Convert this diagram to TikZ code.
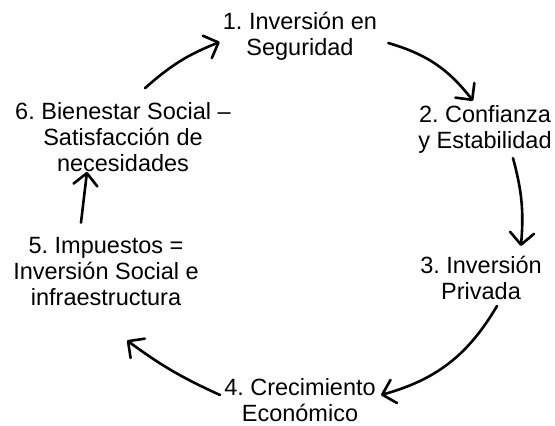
\documentclass[tikz,border=0pt]{standalone}
\usepackage{fontspec}
\setmainfont{Liberation Sans}
\frenchspacing
\usetikzlibrary{positioning}
\usetikzlibrary{arrows.meta}

\begin{document}
\begin{tikzpicture}[x=1pt, y=-1pt,
    stage/.style = {align=center, inner sep=0pt, font=\fontsize{23.5}{26}\selectfont},
    link/.style = {line width=2.6pt, line cap=round, -{Straight Barb[length=12pt, width=24pt, round]}}]
    \useasboundingbox (0,0) rectangle (555,426);

    \node[stage] (n1) at (300,36) {1. Inversión en\\Seguridad};
    \node[stage] (n2) at (485,129) {2. Confianza\\y Estabilidad};
    \node[stage] (n3) at (481,278) {3. Inversión\\Privada};
    \node[stage] (n4) at (300,400) {4. Crecimiento\\Económico};
    \node[stage] (n5) at (106,272) {5. Impuestos =\\Inversión Social e\\infraestructura};
    \node[stage] (n6) at (123,137) {6. Bienestar Social --\\Satisfacción de\\necesidades};

    \draw[link] ([xshift=22pt,yshift=14pt]n6.north) to[bend left=10] ([xshift=-3pt,yshift=-6pt]n1.west);
    \draw[link] ([xshift=11pt,yshift=-7pt]n1.east) to[bend left=18] ([xshift=-12pt,yshift=4pt]n2.north);
    \draw[link] ([xshift=28pt,yshift=-5pt]n2.south) to[bend left=10] ([xshift=-21pt,yshift=10pt]n3.north east);
    \draw[link] ([xshift=16pt,yshift=-6pt]n3.south) to[bend left=22] ([xshift=5pt,yshift=5pt]n4.east);
    \draw[link] ([xshift=-4pt,yshift=5pt]n4.west) to[bend left=6] ([xshift=21pt,yshift=-34pt]n5.south);
    \draw[link] ([xshift=-25pt,yshift=15pt]n5.north) -- ([xshift=-36pt]n6.south);
\end{tikzpicture}
\end{document}
